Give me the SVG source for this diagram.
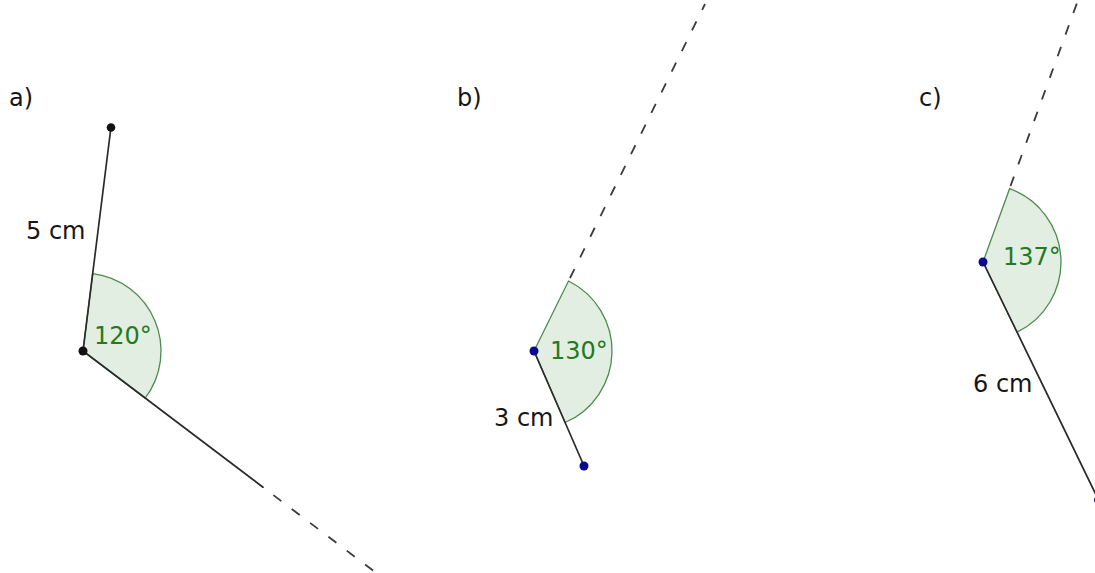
<svg xmlns="http://www.w3.org/2000/svg" width="1095" height="573" viewBox="0 0 1095 573">
<style>
.lbl{font-family:"DejaVu Sans",sans-serif;font-size:24px;fill:#161616}
.ang{font-family:"DejaVu Sans",sans-serif;font-size:24px;fill:#237a21}
.seg{stroke:#2a2a2a;stroke-width:1.7;fill:none;stroke-linecap:round}
.dash{stroke:#3a3a3a;stroke-width:1.8;fill:none;stroke-dasharray:10 13}
.sector{fill:#e3eee3;stroke:#4f8a4f;stroke-width:1.3}
.pb{fill:#111}
.pblue{fill:#0a0a8c}
</style>
<rect width="1095" height="573" fill="#ffffff"/>
<g id="figure-a">
<path class="sector" d="M83,351 L92.7,273.6 A78,78 0 0 1 145.2,398.1 Z"/>
<line class="seg" x1="83" y1="351" x2="111" y2="127"/>
<line class="seg" x1="83" y1="351" x2="263" y2="487.2"/>
<line class="dash" x1="273.4" y1="495.1" x2="382" y2="577.3"/>
<circle class="pb" cx="111" cy="127.5" r="4.3"/>
<circle class="pb" cx="83" cy="351" r="4.5"/>
<text class="lbl" x="9" y="106">a)</text>
<text class="lbl" x="26" y="239">5 cm</text>
<text class="ang" x="94" y="344">120°</text>
</g>
<g id="figure-b">
<path class="sector" d="M534,351 L568.5,281 A78,78 0 0 1 565.1,422.5 Z"/>
<line class="seg" x1="534" y1="351" x2="584" y2="466"/>
<line class="dash" x1="570" y1="278" x2="705" y2="4"/>
<circle class="pblue" cx="534" cy="351" r="4.5"/>
<circle class="pblue" cx="584" cy="466" r="4.5"/>
<text class="lbl" x="457" y="106">b)</text>
<text class="lbl" x="494" y="426">3 cm</text>
<text class="ang" x="550" y="359">130°</text>
</g>
<g id="figure-c">
<path class="sector" d="M983,262 L1009.6,188.7 A78,78 0 0 1 1017,332.2 Z"/>
<line class="seg" x1="983" y1="262" x2="1098" y2="499"/>
<line class="dash" x1="1010.5" y1="186" x2="1077" y2="3"/>
<circle class="pblue" cx="983" cy="262" r="4.5"/>
<circle class="pblue" cx="1098.5" cy="500" r="4.5"/>
<text class="lbl" x="919" y="106">c)</text>
<text class="lbl" x="973" y="392">6 cm</text>
<text class="ang" x="1003" y="265">137°</text>
</g>
<g id="connectors"/>
</svg>
